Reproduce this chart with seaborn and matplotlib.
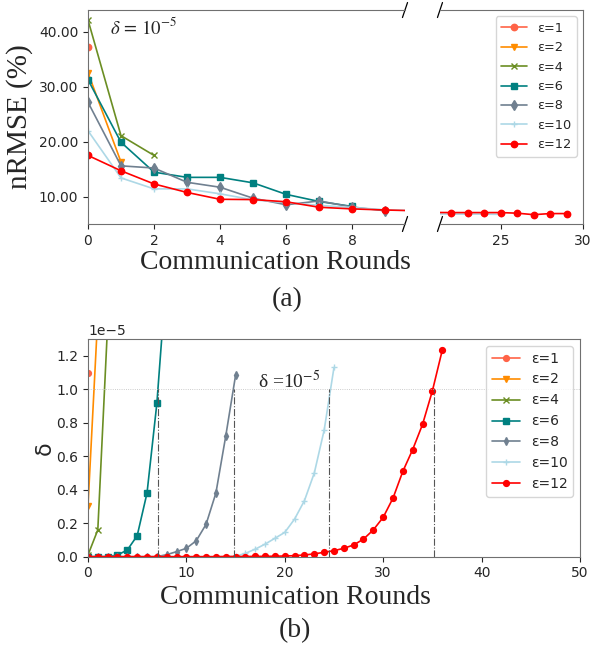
import numpy as np
import pandas as pd
import matplotlib
matplotlib.use("Agg")
import matplotlib.pyplot as plt
import seaborn as sns

# ---------------- data ----------------
labels = ["ε=1", "ε=2", "ε=4", "ε=6", "ε=8", "ε=10", "ε=12"]
colors = ["tomato", "darkorange", "olivedrab", "teal", "slategray", "lightblue", "red"]
markers = ["o", "v", "x", "s", "d", "+", "o"]

# (a) nRMSE (%) vs communication rounds
rounds_a_e1 = [0]
nrmse_e1 = [37.2]
rounds_a_e2 = [0, 1]
nrmse_e2 = [32.6, 16.3]
rounds_a_e4 = [0, 1, 2]
nrmse_e4 = [42.2, 21.1, 17.5]
rounds_a_e6 = [0, 1, 2, 3, 4, 5, 6, 7, 8]
nrmse_e6 = [31.3, 19.9, 14.45, 13.5, 13.5, 12.5, 10.4, 9.1, 8.2]
rounds_a_e8 = [0, 1, 2, 3, 4, 5, 6, 7, 8, 9]
nrmse_e8 = [27.2, 15.6, 15.2, 12.6, 11.7, 9.7, 8.5, 9.2, 8.1, 7.4]
rounds_a_e10 = [0, 1, 2, 3, 4, 5, 6, 7, 8, 9, 10, 21, 22, 23, 24, 25]
nrmse_e10 = [22.0, 13.4, 11.4, 11.4, 10.5, 9.4, 8.9, 8.4, 8.0, 7.6, 7.4, 6.85, 6.8, 6.8, 6.8, 6.75]
rounds_a_e12 = [0, 1, 2, 3, 4, 5, 6, 7, 8, 9, 10, 21, 22, 23, 24, 25, 26, 27, 28, 29]
nrmse_e12 = [17.5, 14.7, 12.3, 10.75, 9.5, 9.45, 9.05, 8.05, 7.75, 7.55, 7.4, 7.1,
             7.08, 7.08, 7.08, 7.08, 6.97, 6.7, 6.9, 6.9]

# (b) delta (in units of 1e-5) vs communication rounds
DELTA_UNIT = 1e-5
rounds_b_e1 = [0, 1]
delta_e1 = [1.1, 20.0]
rounds_b_e2 = [0, 1]
delta_e2 = [0.3, 1.44]
rounds_b_e4 = [0, 1, 2]
delta_e4 = [0.01, 0.16, 1.39]
rounds_b_e6 = [0, 1, 2, 3, 4, 5, 6, 7, 8]
delta_e6 = [0.0, 0.0, 0.0, 0.01, 0.04, 0.125, 0.38, 0.915, 1.70]
rounds_b_e8 = list(range(0, 16))
delta_e8 = [0.0, 0.0, 0.0, 0.0, 0.0, 0.0, 0.0, 0.0, 0.012, 0.03, 0.05, 0.095,
            0.193, 0.38, 0.72, 1.083]
rounds_b_e10 = list(range(0, 26))
delta_e10 = [0.0, 0.0, 0.0, 0.0, 0.0, 0.0, 0.0, 0.0, 0.0, 0.0, 0.0, 0.0, 0.0, 0.0,
             0.0, 0.002, 0.02, 0.045, 0.075, 0.11, 0.145, 0.225, 0.335, 0.5, 0.755, 1.13]
rounds_b_e12 = list(range(0, 37))
delta_e12 = [0.0, 0.0, 0.0, 0.0, 0.0, 0.0, 0.0, 0.0, 0.0, 0.0, 0.0, 0.0, 0.0, 0.0,
             0.001, 0.001, 0.001, 0.002, 0.002, 0.003, 0.004, 0.006, 0.01, 0.017,
             0.026, 0.036, 0.05, 0.07, 0.105, 0.16, 0.235, 0.35, 0.51, 0.64, 0.79,
             0.99, 1.232]

threshold_rounds = [7.15, 14.85, 24.5, 35.2]
delta_threshold = 1.0

series_a = [(rounds_a_e1, nrmse_e1), (rounds_a_e2, nrmse_e2), (rounds_a_e4, nrmse_e4),
            (rounds_a_e6, nrmse_e6), (rounds_a_e8, nrmse_e8), (rounds_a_e10, nrmse_e10),
            (rounds_a_e12, nrmse_e12)]
series_b = [(rounds_b_e1, delta_e1), (rounds_b_e2, delta_e2), (rounds_b_e4, delta_e4),
            (rounds_b_e6, delta_e6), (rounds_b_e8, delta_e8), (rounds_b_e10, delta_e10),
            (rounds_b_e12, delta_e12)]

# ---------------- style ----------------
sns.set_style("ticks")
plt.rcParams["font.family"] = ["DejaVu Sans"]
plt.rcParams["mathtext.fontset"] = "stix"
SERIF = ["Liberation Serif", "DejaVu Serif"]
SPINE_C = "#707070"

fig = plt.figure(figsize=(5.92, 6.47), dpi=100)
ax1 = fig.add_axes([0.1486, 0.6538, 0.5355, 0.3307])
ax2 = fig.add_axes([0.7432, 0.6538, 0.2416, 0.3307])
ax3 = fig.add_axes([0.1486, 0.1396, 0.8311, 0.3364])


def draw(ax, xs, ys, lab, c, m, ms, lw):
    df = pd.DataFrame({"round": xs, "val": ys})
    sns.lineplot(data=df, x="round", y="val", ax=ax, color=c, marker=m,
                 markersize=ms, linewidth=lw, markeredgecolor=c,
                 markeredgewidth=1.0, label=lab)


# ---- (a) broken axis ----
for (xs, ys), lab, c, m in zip(series_a, labels, colors, markers):
    for ax in (ax1, ax2):
        draw(ax, xs, ys, lab, c, m, 4.6, 1.2)

ax1.set_xlim(0, 9.6)
ax2.set_xlim(21.3, 30)
for ax in (ax1, ax2):
    ax.set_ylim(5, 44)
    ax.set_xlabel("")
    ax.set_ylabel("")
    for s in ax.spines.values():
        s.set_color(SPINE_C)
ax1.set_xticks([0, 2, 4, 6, 8])
ax2.set_xticks([25, 30])
ax1.set_yticks([10, 20, 30, 40])
ax1.set_yticklabels([f"{v:.2f}" for v in [10, 20, 30, 40]])
ax1.spines["right"].set_visible(False)
ax2.spines["left"].set_visible(False)
ax2.tick_params(axis="y", left=False, labelleft=False)
ax1.get_legend().remove()
handles, labs = ax1.get_legend_handles_labels()
ax2.get_legend().remove()
ax2.legend(handles, labs, loc="upper right", fontsize=9.3, frameon=True)

# break marks
kw = dict(color="black", lw=0.9, clip_on=False)
dx1, dy = 0.008, 0.035
ax1.plot([1 - dx1, 1 + dx1], [1 - dy, 1 + dy], transform=ax1.transAxes, **kw)
ax1.plot([1 - dx1, 1 + dx1], [-dy, dy], transform=ax1.transAxes, **kw)
dx2 = 0.0175
ax2.plot([-dx2, dx2], [1 - dy, 1 + dy], transform=ax2.transAxes, **kw)
ax2.plot([-dx2, dx2], [-dy, dy], transform=ax2.transAxes, **kw)

ax1.text(0.07, 0.92, r"$\delta\,=\,10^{-5}$", transform=ax1.transAxes,
         fontsize=13.5, va="center", ha="left")
ax1.set_ylabel("nRMSE (%)", family=SERIF, fontsize=21, labelpad=4)

fig.text(275 / 592, 1 - 262 / 647, "Communication Rounds", family=SERIF,
         fontsize=20, ha="center", va="center")
fig.text(287 / 592, 1 - 300 / 647, "(a)", family=SERIF, fontsize=20,
         ha="center", va="center")

# ---- (b) ----
for (xs, ys), lab, c, m in zip(series_b, labels, colors, markers):
    draw(ax3, xs, np.array(ys) * DELTA_UNIT, lab, c, m, 4.2, 1.2)

ax3.axhline(delta_threshold * DELTA_UNIT, color="#bbbbbb", lw=0.6, ls=":")
for xr in threshold_rounds:
    ax3.plot([xr, xr], [0, delta_threshold * DELTA_UNIT], color="#555555",
             lw=0.8, ls="-.")
ax3.set_xlim(0, 50)
ax3.set_ylim(0, 1.3e-5)
ax3.set_xticks([0, 10, 20, 30, 40, 50])
ax3.set_yticks(np.arange(0, 1.21, 0.2) * DELTA_UNIT)
for s in ax3.spines.values():
    s.set_color(SPINE_C)
ax3.set_xlabel("")
ax3.set_ylabel("δ", fontsize=16, labelpad=1)
ax3.text(17.3, 1.045e-5, "δ =10$^{-5}$", family=SERIF, fontsize=14,
         ha="left", va="center")
ax3.get_legend().remove()
ax3.legend(loc="upper right", fontsize=10, frameon=True)

fig.text(295 / 592, 1 - 597 / 647, "Communication Rounds", family=SERIF,
         fontsize=20, ha="center", va="center")
fig.text(295 / 592, 1 - 631 / 647, "(b)", family=SERIF, fontsize=20,
         ha="center", va="center")

fig.savefig("out.png", dpi=100)
